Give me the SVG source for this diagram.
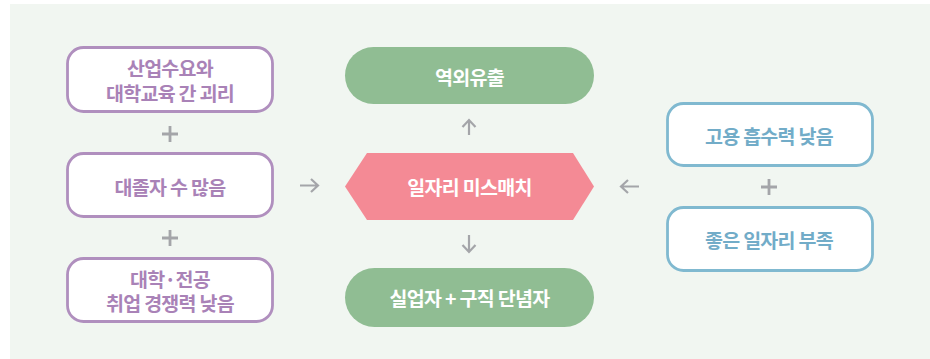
<svg xmlns="http://www.w3.org/2000/svg" width="930" height="359" viewBox="0 0 930 359">
<defs>
<style>
.box{fill:#ffffff;stroke-width:2.8}
.pu{stroke:#b08fbe}
.bl{stroke:#80b9d0}
.t{font-family:"Noto Sans CJK KR","Noto Sans",sans-serif;font-weight:700;font-size:19.5px;text-anchor:middle;dominant-baseline:central;letter-spacing:-0.7px}
.tp{fill:#a982b7}
.tb{fill:#72acc8}
.tw{fill:#ffffff}
.ar{stroke:#a4a5a9;stroke-width:2.2;fill:none;stroke-linecap:butt;stroke-linejoin:miter}
.pl{stroke:#a4a5a9;stroke-width:2.8;fill:none}
</style>
</defs>
<rect x="10" y="4" width="920" height="355" fill="#f1f6f1"/>
<g id="n1"><rect class="box pu" x="67.5" y="47.5" width="205" height="64" rx="16"/><text class="t tp" x="170" y="67.5">산업수요와</text><text class="t tp" x="170" y="92">대학교육 간 괴리</text></g>
<g id="n2"><rect class="box pu" x="67.5" y="153.5" width="205" height="63" rx="16"/><text class="t tp" x="170" y="186">대졸자 수 많음</text></g>
<g id="n3"><rect class="box pu" x="67.5" y="258.5" width="205" height="63" rx="16"/><text class="t tp" x="170" y="278">대학·전공</text><text class="t tp" x="170" y="302.5">취업 경쟁력 낮음</text></g>
<g id="n4"><rect x="345" y="47" width="249" height="57" rx="28.5" fill="#90bd93"/><text class="t tw" x="469.5" y="76">역외유출</text></g>
<g id="n5"><polygon points="345,186.5 367,153 573,153 594,186.5 573,220 367,220" fill="#f48a95"/><text class="t tw" x="469.5" y="186">일자리 미스매치</text></g>
<g id="n6"><rect x="345" y="268" width="249" height="59" rx="29.5" fill="#90bd93"/><text class="t tw" x="469.5" y="297">실업자 + 구직 단념자</text></g>
<g id="n7"><rect class="box bl" x="667.5" y="103.5" width="205" height="62" rx="16"/><text class="t tb" x="769" y="135">고용 흡수력 낮음</text></g>
<g id="n8"><rect class="box bl" x="667.5" y="207.5" width="205" height="63" rx="16"/><text class="t tb" x="769" y="239">좋은 일자리 부족</text></g>
<g id="connectors">
<path class="pl" d="M162,134H178M170,126V142"/>
<path class="pl" d="M162,238H178M170,230V246"/>
<path class="pl" d="M761,187H777M769,179V195"/>
<path class="ar" d="M300,185.5H318M311,179L318,185.5L311,192"/>
<path class="ar" d="M639,186.5H621M628,180L621,186.5L628,193"/>
<path class="ar" d="M469,135V120M462.5,127L469,120L475.5,127"/>
<path class="ar" d="M469,235V252M462.5,245L469,252L475.5,245"/>
</g>
</svg>
